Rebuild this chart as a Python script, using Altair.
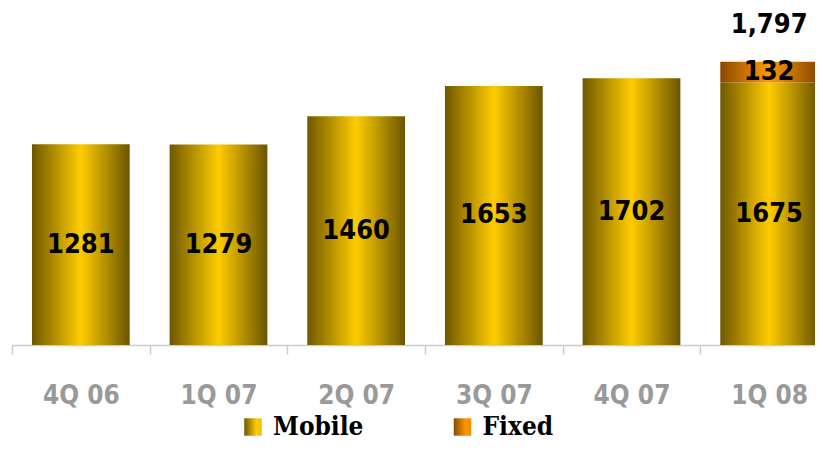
import altair as alt
import pandas as pd

quarters = ["4Q 06", "1Q 07", "2Q 07", "3Q 07", "4Q 07", "1Q 08"]
mobile = [1281, 1279, 1460, 1653, 1702, 1675]
fixed = [0, 0, 0, 0, 0, 132]
total_labels = ["", "", "", "", "", "1,797"]
series = ["Mobile", "Fixed"]

SANS = "DejaVu Sans Condensed, Liberation Sans Narrow, DejaVu Sans, sans-serif"
SERIF = "DejaVu Serif Condensed, DejaVu Serif, serif"

df = pd.DataFrame({"quarter": quarters, "mobile": mobile, "fixed": fixed,
                   "total_label": total_labels})


def grad(stops):
    return alt.LinearGradient(
        gradient="linear", x1=0, x2=1, y1=0, y2=0,
        stops=[alt.GradientStop(color=c, offset=o) for o, c in stops])


mobile_grad = grad([(0, "#6e5800"), (0.5, "#ffcc00"), (1, "#6b5500")])
fixed_grad = grad([(0, "#8a4a00"), (0.5, "#ff9900"), (1, "#874700")])
mobile_leg = grad([(0, "#6e5800"), (0.7, "#ffcc00"), (1, "#f0c000")])
fixed_leg = grad([(0, "#8a4a00"), (0.7, "#ff9900"), (1, "#f08c00")])

x = alt.X("quarter:N", sort=quarters,
          scale=alt.Scale(paddingInner=0.29, paddingOuter=0.145, range=[0, 826]),
          axis=alt.Axis(title=None, labelAngle=0, bandPosition=0, tickOffset=-20,
                        labelOffset=20, tickSize=9,
                        tickColor="#cccccc", tickWidth=1.5, domainColor="#cccccc",
                        domainWidth=1.5, labelColor="#999999", labelFont=SANS,
                        labelFontSize=26, labelFontWeight="bold", labelPadding=28))
yscale = alt.Scale(domain=[0, 2150], nice=False, zero=True)

base = alt.Chart(df)

mob = base.mark_bar(color=mobile_grad).encode(
    x=x, y=alt.Y("mobile:Q", scale=yscale, axis=None))

fix = base.transform_filter("datum.fixed > 0").transform_calculate(
    top="datum.mobile + datum.fixed").mark_bar(color=fixed_grad).encode(
    x=x, y=alt.Y("mobile:Q", scale=yscale, axis=None), y2="top:Q")

mob_text = base.transform_calculate(mid="datum.mobile / 2").mark_text(
    font=SANS, fontSize=27, fontWeight="bold", color="black", baseline="middle").encode(
    x=x, y=alt.Y("mid:Q", scale=yscale, axis=None), text=alt.Text("mobile:Q", format="d"))

fix_text = base.transform_filter("datum.fixed > 0").transform_calculate(
    mid="datum.mobile + datum.fixed / 2").mark_text(
    font=SANS, fontSize=27, fontWeight="bold", color="black", baseline="middle").encode(
    x=x, y=alt.Y("mid:Q", scale=yscale, axis=None), text=alt.Text("fixed:Q", format="d"))

tot_text = base.transform_filter("datum.total_label != ''").transform_calculate(
    top="datum.mobile + datum.fixed").mark_text(
    font=SANS, fontSize=27, fontWeight="bold", color="black", baseline="alphabetic",
    dy=-29).encode(
    x=x, y=alt.Y("top:Q", scale=yscale, axis=None), text="total_label:N")

main = alt.layer(mob, fix, mob_text, fix_text, tot_text)

leg_df = pd.DataFrame({"series": series})
lx = alt.X("series:N", sort=series,
           scale=alt.Scale(type="band", paddingInner=0, paddingOuter=0.9165, align=0.3548),
           axis=None)
lbase = alt.Chart(leg_df)
LEG_Y = 419
lsq_m = lbase.transform_filter("datum.series == 'Mobile'").mark_square(
    size=306, color=mobile_leg, opacity=1).encode(x=lx, y=alt.value(LEG_Y))
lsq_f = lbase.transform_filter("datum.series == 'Fixed'").mark_square(
    size=306, color=fixed_leg, opacity=1).encode(x=lx, y=alt.value(LEG_Y))
ltext = lbase.mark_text(align="left", baseline="middle", dx=20, font=SERIF,
                        fontSize=26, fontWeight="bold", color="black").encode(
    x=lx, y=alt.value(LEG_Y), text="series:N")
legend = alt.layer(lsq_m, lsq_f, ltext)

chart = alt.layer(main, legend).resolve_scale(x="independent").properties(
    width=803, height=337,
    autosize=alt.AutoSizeParams(type="none"),
    padding={"left": 4, "top": 0, "right": 0, "bottom": 97},
).configure_view(stroke=None)

chart.save("out.html", embed_options={"renderer": "svg", "actions": False})
